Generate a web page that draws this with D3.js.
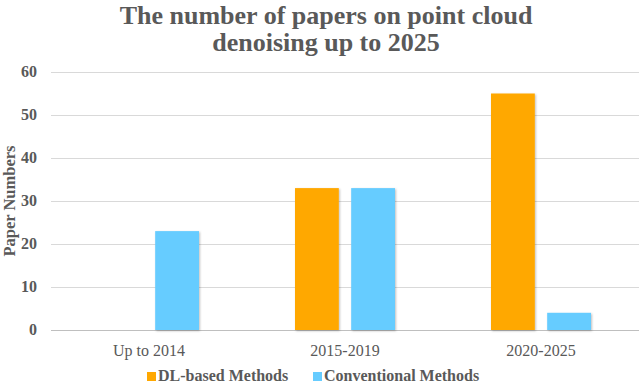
<!DOCTYPE html>
<html>
<head>
<meta charset="utf-8">
<script src="https://cdn.jsdelivr.net/npm/d3@7"></script>
<style>
  body { margin: 0; background: #fff; }
  text { font-family: "Liberation Serif", "Times New Roman", serif; }
</style>
</head>
<body>
<div id="chart"></div>
<script>
// chart data
var categories = ["Up to 2014", "2015-2019", "2020-2025"];
var seriesNames = ["DL-based Methods", "Conventional Methods"];
var dlValues = [0, 33, 55];
var convValues = [23, 33, 4];
var yTicks = [0, 10, 20, 30, 40, 50, 60];

var colors = ["#ffa800", "#66ccff"];

var width = 640,
    height = 385;
var margin = {top: 72, right: 1, bottom: 55, left: 51};

var svg = d3.select("#chart")
  .append("svg")
  .attr("width", width)
  .attr("height", height);

var defs = svg.append("defs");
var f = defs.append("filter").attr("id", "shadow")
  .attr("x", "-20%").attr("y", "-20%").attr("width", "140%").attr("height", "140%");
f.append("feDropShadow").attr("dx", 1).attr("dy", 1).attr("stdDeviation", 1)
  .attr("flood-color", "#000").attr("flood-opacity", 0.25);

var x0 = d3.scaleBand()
  .domain(categories)
  .range([margin.left, width - margin.right])
  .paddingInner(0)
  .paddingOuter(0);

var x1 = d3.scaleBand()
  .domain(seriesNames)
  .range([48, x0.bandwidth() - 48])
  .paddingInner(0.22);

var y = d3.scaleLinear()
  .domain([0, 60])
  .range([height - margin.bottom, margin.top]);

// gridlines
svg.append("g")
  .selectAll("line")
  .data(yTicks)
  .enter()
  .append("line")
  .attr("x1", margin.left)
  .attr("x2", width - margin.right)
  .attr("y1", function(d) { return Math.round(y(d)) + 0.5; })
  .attr("y2", function(d) { return Math.round(y(d)) + 0.5; })
  .attr("stroke", function(d) { return d === 0 ? "#bfbfbf" : "#d9d9d9"; })
  .attr("stroke-width", 1);

// y tick labels
svg.append("g")
  .selectAll("text")
  .data(yTicks)
  .enter()
  .append("text")
  .attr("x", 37)
  .attr("y", function(d) { return y(d) + 5; })
  .attr("text-anchor", "end")
  .attr("font-size", 16)
  .attr("font-weight", "bold")
  .attr("fill", "#595959")
  .text(function(d) { return d; });

// bars
var rows = categories.map(function(c, i) {
  return {cat: c, vals: [dlValues[i], convValues[i]]};
});

var groups = svg.append("g")
  .selectAll("g")
  .data(rows)
  .enter()
  .append("g")
  .attr("transform", function(d) { return "translate(" + x0(d.cat) + ",0)"; });

groups.selectAll("rect")
  .data(function(d) {
    return d.vals.map(function(v, j) { return {name: seriesNames[j], value: v, j: j}; });
  })
  .enter()
  .filter(function(d) { return d.value > 0; })
  .append("rect")
  .attr("x", function(d) { return x1(d.name); })
  .attr("y", function(d) { return y(d.value); })
  .attr("width", x1.bandwidth())
  .attr("height", function(d) { return y(0) - y(d.value); })
  .attr("fill", function(d) { return colors[d.j]; })
  .attr("filter", "url(#shadow)");

// x labels
svg.append("g")
  .selectAll("text")
  .data(categories)
  .enter()
  .append("text")
  .attr("x", function(d) { return x0(d) + x0.bandwidth() / 2; })
  .attr("y", 356)
  .attr("text-anchor", "middle")
  .attr("font-size", 16)
  .attr("fill", "#595959")
  .text(function(d) { return d; });

// title
var title = svg.append("text")
  .attr("x", 326)
  .attr("text-anchor", "middle")
  .attr("font-size", 26)
  .attr("font-weight", "bold")
  .attr("fill", "#595959");
title.append("tspan").attr("x", 326).attr("y", 24).text("The number of papers on point cloud");
title.append("tspan").attr("x", 326).attr("y", 51).text("denoising up to 2025");

// y axis title
svg.append("text")
  .attr("transform", "translate(15," + 201 + ") rotate(-90)")
  .attr("text-anchor", "middle")
  .attr("font-size", 16.5)
  .attr("font-weight", "bold")
  .attr("fill", "#595959")
  .text("Paper Numbers");

// legend
var legendX = [147, 313];
var legend = svg.append("g")
  .selectAll("g")
  .data(seriesNames)
  .enter()
  .append("g")
  .attr("transform", function(d, i) { return "translate(" + legendX[i] + ",372)"; });

legend.append("rect")
  .attr("width", 9)
  .attr("height", 9)
  .attr("fill", function(d, i) { return colors[i]; });

legend.append("text")
  .attr("x", 11)
  .attr("y", 9)
  .attr("font-size", 16)
  .attr("font-weight", "bold")
  .attr("fill", "#595959")
  .text(function(d) { return d; });
</script>
</body>
</html>
